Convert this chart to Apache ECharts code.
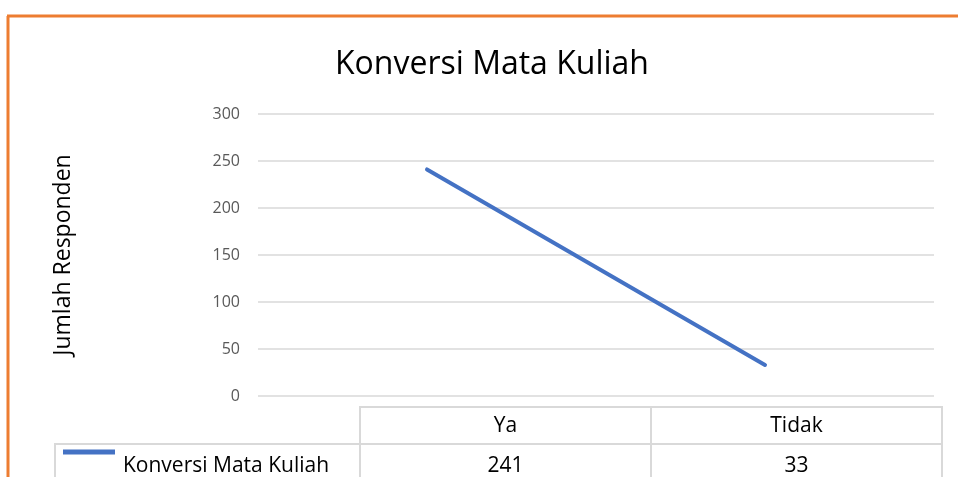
<!DOCTYPE html>
<html>
<head>
<meta charset="utf-8">
<script src="https://cdn.jsdelivr.net/npm/echarts@6/dist/echarts.min.js"></script>
<style>
  html, body { margin: 0; padding: 0; background: #fff; }
  #chart { width: 958px; height: 477px; }
</style>
</head>
<body>
<div id="chart"></div>
<script>
var categories = ['Ya', 'Tidak'];
var seriesName = 'Konversi Mata Kuliah';
var values = [241, 33];
var yTicks = [0, 50, 100, 150, 200, 250, 300];

var FONT = 'Open Sans';
var chart = echarts.init(document.getElementById('chart'));

// data table under the plot (Excel style)
var tableLeft = 360, colW = 291, rowTop = 407, rowH = 37;
var border = {stroke: '#d9d9d9', lineWidth: 2, fill: 'none'};
var cellFont = '21px "' + FONT + '"';
var table = [];
table.push({type: 'rect', shape: {x: tableLeft, y: rowTop, width: colW * categories.length, height: rowH}, style: border});
table.push({type: 'rect', shape: {x: 55, y: rowTop + rowH, width: tableLeft - 55 + colW * categories.length, height: 60}, style: border});
categories.forEach(function(name, i) {
  var x = tableLeft + colW * i;
  if (i > 0) {
    table.push({type: 'line', shape: {x1: x, y1: rowTop, x2: x, y2: 477}, style: {stroke: '#d9d9d9', lineWidth: 2}});
  }
  table.push({type: 'text', x: x + colW / 2, y: rowTop + rowH / 2 + 1,
    style: {text: name, font: cellFont, fill: '#000', align: 'center', verticalAlign: 'middle'}});
  table.push({type: 'text', x: x + colW / 2, y: rowTop + rowH + 22,
    style: {text: String(values[i]), font: cellFont, fill: '#000', align: 'center', verticalAlign: 'middle'}});
});
table.push({type: 'line', shape: {x1: tableLeft, y1: rowTop + rowH, x2: tableLeft, y2: 477}, style: {stroke: '#d9d9d9', lineWidth: 2}});
// legend key
table.push({type: 'line', shape: {x1: 63, y1: 452, x2: 115, y2: 452}, style: {stroke: '#4472c4', lineWidth: 5}});
table.push({type: 'text', x: 123, y: rowTop + rowH + 22,
  style: {text: seriesName, font: cellFont, fill: '#000', verticalAlign: 'middle'}});

// orange frame (top and left edges)
table.push({type: 'line', shape: {x1: 7, y1: 16, x2: 958, y2: 16}, style: {stroke: '#ed7d31', lineWidth: 3}});
table.push({type: 'line', shape: {x1: 8, y1: 16, x2: 8, y2: 477}, style: {stroke: '#ed7d31', lineWidth: 3}});

chart.setOption({
  backgroundColor: '#fff',
  animation: false,
  title: {
    text: seriesName,
    left: 487, top: 44, textAlign: 'center',
    textStyle: {fontFamily: FONT, fontSize: 32, fontWeight: 'normal', color: '#000'}
  },
  grid: {left: 258, right: 24, top: 114, bottom: 81},
  xAxis: {
    type: 'category',
    data: categories,
    boundaryGap: true,
    axisLine: {show: false},
    axisTick: {show: false},
    axisLabel: {show: false}
  },
  yAxis: {
    type: 'value',
    min: yTicks[0], max: yTicks[yTicks.length - 1], interval: yTicks[1] - yTicks[0],
    name: 'Jumlah Responden',
    nameLocation: 'middle',
    nameGap: 183,
    nameTextStyle: {fontFamily: FONT, fontSize: 23, color: '#000'},
    axisLine: {show: false},
    axisTick: {show: false},
    axisLabel: {fontFamily: FONT, fontSize: 16, color: '#595959', margin: 18},
    splitLine: {lineStyle: {color: '#d9d9d9', width: 1.5}}
  },
  series: [{
    name: seriesName,
    type: 'line',
    data: values,
    symbol: 'none',
    lineStyle: {color: '#4472c4', width: 4, cap: 'round'}
  }],
  graphic: table
});
</script>
</body>
</html>
